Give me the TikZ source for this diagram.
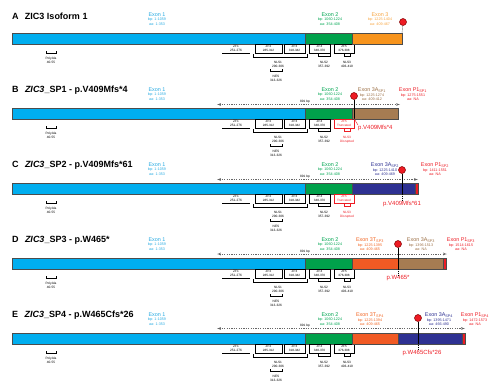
\documentclass[tikz,border=0pt]{standalone}
\usepackage{fontspec}
\setmainfont{Liberation Sans}
\usepackage{xcolor}
\usepackage{tikz}
\usetikzlibrary{arrows, positioning}

\definecolor{excyan}{HTML}{00AEEF}
\definecolor{exgreen}{HTML}{00A14B}
\definecolor{exorange}{HTML}{F7941D}
\definecolor{exbrown}{HTML}{A67C52}
\definecolor{exnavy}{HTML}{2E3192}
\definecolor{exorred}{HTML}{F15A24}
\definecolor{exred}{HTML}{ED1C24}
\definecolor{lbcyan}{HTML}{29ABE2}
\definecolor{lbgreen}{HTML}{00A651}
\definecolor{lborange}{HTML}{F7A541}
\definecolor{lbbrown}{HTML}{9B6F45}
\definecolor{lbnavy}{HTML}{2E3192}
\definecolor{lborred}{HTML}{F26522}

\begin{document}
\begin{tikzpicture}[x=1pt, y=-1pt, node distance=0pt,
        exonbar/.style={rectangle, draw=black!70, line width=0.4pt, minimum height=11pt, inner sep=0pt, outer sep=0pt},
        exname/.style={font=\fontsize{5.4}{6}\selectfont, inner sep=0pt},
        exsub/.style={font=\fontsize{3.7}{4.5}\selectfont, align=center, inner sep=0pt},
        zfbox/.style={rectangle, draw, line width=0.35pt, minimum height=9pt, inner sep=0pt, outer sep=0pt, font=\fontsize{3.1}{3.7}\selectfont, align=center},
        ann/.style={font=\fontsize{3.2}{3.8}\selectfont, align=center, inner sep=0pt},
        bracket/.style={draw, line width=0.35pt},
        title/.style={font=\bfseries\fontsize{9}{10}\selectfont, anchor=west, inner sep=0pt},
        stopdot/.style={circle, fill=exred, draw=red!50!black, line width=0.5pt, minimum size=7pt, inner sep=0pt},
        stopline/.style={draw, line width=0.4pt},
        dropline/.style={draw, line width=0.35pt, dash pattern=on 1pt off 1pt},
        gapline/.style={draw=black!60, latex'-latex', line width=0.35pt, dash pattern=on 1.2pt off 1.2pt},
        mut/.style={font=\fontsize{6}{7}\selectfont, text=exred, inner sep=0pt}]

    \useasboundingbox (0,0) rectangle (500,384);

    % Shared part of every panel
    \foreach \p/\yy/\zc/\zt/\nt in {A/33/black/376-398/403-410, B/108/exred/Truncated/Disrupted, C/183/exred/Truncated/Disrupted, D/258/black/376-398/403-410, E/333/black/376-398/403-410}{
        \node [exonbar, fill=excyan, minimum width=293pt, anchor=north west] (e1\p) at (12,\yy) {};
        \node [exonbar, fill=exgreen, minimum width=47pt, right=of e1\p] (e2\p) {};
        \node [exname, text=lbcyan] (n1\p) at (157,\yy-18) {Exon 1};
        \node [exsub, text=lbcyan, below=0.8pt of n1\p] (s1\p) {bp: 1-1059\\aa: 1-353};
        \node [exname, text=lbgreen] (n2\p) at (330,\yy-18) {Exon 2};
        \node [exsub, text=lbgreen, below=0.8pt of n2\p] (s2\p) {bp: 1060-1224\\aa: 354-408};

        % domains under the bar
        \draw [bracket] (46,\yy+18) |- (56,\yy+20) -- (56,\yy+18);
        \node [ann] (pa\p) at (51,\yy+27) {PolyAla\\40-55};
        \draw [bracket] (222,\yy+20) -- (250,\yy+20);
        \node [ann] (zf1\p) at (236,\yy+15.5) {ZF1\\251-276};
        \node [zfbox, minimum width=27pt] (zf2\p) at (268.5,\yy+15.5) {ZF2\\285-312};
        \node [zfbox, minimum width=21pt] (zf3\p) at (294.5,\yy+15.5) {ZF3\\318-342};
        \node [zfbox, minimum width=21pt] (zf4\p) at (319.5,\yy+15.5) {ZF4\\348-370};
        \node [zfbox, draw=\zc, text=\zc, minimum width=20pt] (zf5\p) at (344,\yy+15.5) {ZF5\\\zt};
        \draw [bracket] (253,\yy+21) |- (307,\yy+24) -- (307,\yy+21);
        \node [ann] (nls1\p) at (278,\yy+31.5) {NLS1\\290-306};
        \draw [bracket] (270,\yy+36) |- (282,\yy+38) -- (282,\yy+36);
        \node [ann] (nes\p) at (276,\yy+45) {NES\\313-326};
        \draw [bracket] (318,\yy+21) |- (330,\yy+23) -- (330,\yy+21);
        \node [ann] (nls2\p) at (324,\yy+31.5) {NLS2\\357-392};
        \draw [bracket, draw=\zc] (344,\yy+21) |- (350,\yy+23) -- (350,\yy+21);
        \node [ann, text=\zc] (nls3\p) at (347,\yy+31.5) {NLS3\\\nt};
    }

    % A
    \node [title] (tA) at (12,16) {A\hspace{0.7em}ZIC3 Isoform 1};
    \node [exonbar, fill=exorange, minimum width=50pt, right=of e2A] (e3A) {};
    \node [exname, text=lborange] (n3A) at (380,15) {Exon 3};
    \node [exsub, text=lborange, below=0.8pt of n3A] (s3A) {bp: 1225-1404\\aa: 409-467};
    \node [stopdot] (dotA) at (403,22) {};
    \path [stopline, draw=black!50] (dotA) -- (e3A.north east);

    % B
    \node [title] (tB) at (12,90) {B\hspace{0.7em}\textit{ZIC3}\_SP1 - p.V409Mfs*4};
    \node [exonbar, fill=exbrown, minimum width=46pt, right=of e2B] (e3B) {};
    \node [exname, text=lbbrown] (n3B) at (372,90) {Exon 3A\textsubscript{SP1}};
    \node [exsub, text=lbbrown, below=0.8pt of n3B] (s3B) {bp: 1225-1274\\aa: 409-412};
    \node [exname, text=exred] (n4B) at (413,90) {Exon P1\textsubscript{SP1}};
    \node [exsub, text=exred, below=0.8pt of n4B] (s4B) {bp: 1275-1551\\aa: NA};
    \coordinate (glB) at (217,104.5);
    \coordinate (grB) at (400,104.5);
    \path [gapline] (glB) -- (grB);
    \node [ann] (bpB) at (305,102) {891 bp};
    \node [stopdot] (dotB) at (354,96) {};
    \coordinate (cutB) at (354,118.5);
    \path [stopline] (dotB) -- (cutB);
    \node [mut, anchor=west] (mutB) at (358,128) {p.V409Mfs*4};
    \path [stopline, draw=exred] (cutB) -- (mutB.north west);

    % C
    \node [title] (tC) at (12,165) {C\hspace{0.7em}\textit{ZIC3}\_SP2 - p.V409Mfs*61};
    \node [exonbar, fill=exnavy, minimum width=63pt, right=of e2C] (e3C) {};
    \node [exonbar, fill=exred, minimum width=3pt, right=of e3C] (e4C) {};
    \node [exname, text=lbnavy] (n3C) at (385,165) {Exon 3A\textsubscript{SP2}};
    \node [exsub, text=lbnavy, below=0.8pt of n3C] (s3C) {bp: 1225-1410\\aa: 409-469};
    \node [exname, text=exred] (n4C) at (435,165) {Exon P1\textsubscript{SP2}};
    \node [exsub, text=exred, below=0.8pt of n4C] (s4C) {bp: 1411-1551\\aa: NA};
    \coordinate (glC) at (217,179.5);
    \coordinate (grC) at (418,179.5);
    \path [gapline] (glC) -- (grC);
    \node [ann] (bpC) at (305,177) {891 bp};
    \node [stopdot] (dotC) at (402,170) {};
    \coordinate (cutC) at (402,193.5);
    \path [stopline] (dotC) -- (cutC);
    \node [mut] (mutC) at (402,204) {p.V409Mfs*61};
    \path [dropline] (cutC) -- (mutC.north);

    % D
    \node [title] (tD) at (12,240) {D\hspace{0.7em}\textit{ZIC3}\_SP3 - p.W465*};
    \node [exonbar, fill=exorred, minimum width=46pt, right=of e2D] (e3D) {};
    \node [exonbar, fill=exbrown, minimum width=45pt, right=of e3D] (e4D) {};
    \node [exonbar, fill=exred, minimum width=3pt, right=of e4D] (e5D) {};
    \node [exname, text=lborred] (n3D) at (370,240) {Exon 3T\textsubscript{SP3}};
    \node [exsub, text=lborred, below=0.8pt of n3D] (s3D) {bp: 1225-1395\\aa: 409-465};
    \node [exname, text=lbbrown] (n4D) at (421,240) {Exon 3A\textsubscript{SP3}};
    \node [exsub, text=lbbrown, below=0.8pt of n4D] (s4D) {bp: 1396-1513\\aa: NA};
    \node [exname, text=exred] (n5D) at (461,240) {Exon P1\textsubscript{SP3}};
    \node [exsub, text=exred, below=0.8pt of n5D] (s5D) {bp: 1514-1615\\aa: NA};
    \coordinate (glD) at (217,254);
    \coordinate (grD) at (447,254);
    \path [gapline] (glD) -- (grD);
    \node [ann] (bpD) at (305,251.5) {891 bp};
    \node [stopdot] (dotD) at (398,244) {};
    \coordinate (cutD) at (398,268.5);
    \path [stopline] (dotD) -- (cutD);
    \node [mut] (mutD) at (398,278) {p.W465*};
    \path [dropline] (cutD) -- (mutD.north);

    % E
    \node [title] (tE) at (12,315) {E\hspace{0.7em}\textit{ZIC3}\_SP4 - p.W465Cfs*26};
    \node [exonbar, fill=exorred, minimum width=46pt, right=of e2E] (e3E) {};
    \node [exonbar, fill=exnavy, minimum width=64pt, right=of e3E] (e4E) {};
    \node [exonbar, fill=exred, minimum width=3pt, right=of e4E] (e5E) {};
    \node [exname, text=lborred] (n3E) at (370,315) {Exon 3T\textsubscript{SP4}};
    \node [exsub, text=lborred, below=0.8pt of n3E] (s3E) {bp: 1225-1394\\aa: 409-465};
    \node [exname, text=lbnavy] (n4E) at (439,315) {Exon 3A\textsubscript{SP4}};
    \node [exsub, text=lbnavy, below=0.8pt of n4E] (s4E) {bp: 1395-1471\\aa: 466-490};
    \node [exname, text=exred] (n5E) at (475,315) {Exon P1\textsubscript{SP4}};
    \node [exsub, text=exred, below=0.8pt of n5E] (s5E) {bp: 1472-1573\\aa: NA};
    \coordinate (glE) at (217,328.5);
    \coordinate (grE) at (465,328.5);
    \path [gapline] (glE) -- (grE);
    \node [ann] (bpE) at (305,326) {891 bp};
    \node [stopdot] (dotE) at (418,318) {};
    \coordinate (cutE) at (418,342.5);
    \path [stopline] (dotE) -- (cutE);
    \node [mut] (mutE) at (422,353) {p.W465Cfs*26};
    \path [dropline] (cutE) -- (cutE |- mutE.north);
\end{tikzpicture}
\end{document}
